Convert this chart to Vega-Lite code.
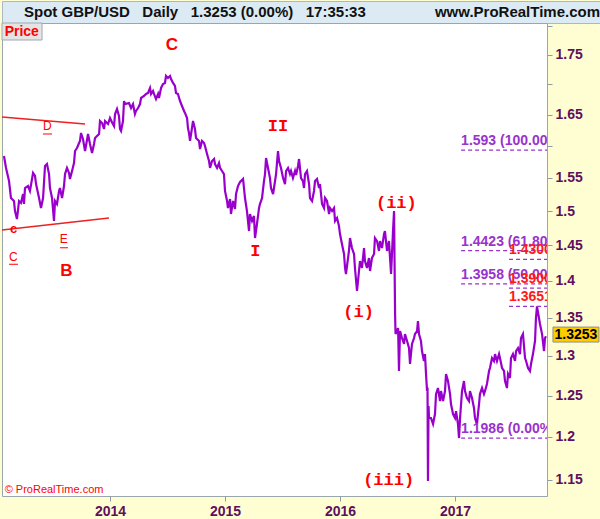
{
  "$schema": "https://vega.github.io/schema/vega-lite/v6.json",
  "padding": 0,
  "background": "#fffed2",
  "spacing": 0,
  "bounds": "flush",
  "config": {"concat": {"spacing": 0}, "view": {"stroke": null}},
  "vconcat": [
    {
      "width": 600,
      "height": 22,
      "view": {"fill": "#dbeaf3", "stroke": "#a9b8c2"},
      "data": {"values": [
        {"side": "left", "label": "Spot GBP/USD\u00a0\u00a0\u00a0Daily\u00a0\u00a0\u00a01.3253 (0.00%)\u00a0\u00a0\u00a017:35:33"},
        {"side": "right", "label": "www.ProRealTime.com"}
      ]},
      "encoding": {
        "x": {"field": "side", "type": "nominal", "scale": {"type": "point", "domain": ["left", "right"], "padding": 0}, "axis": null},
        "text": {"field": "label"}
      },
      "layer": [
        {"transform": [{"filter": "datum.side == 'left'"}],
         "mark": {"type": "text", "align": "left", "baseline": "middle", "dx": 22, "font": "Liberation Sans", "fontSize": 15, "fontWeight": "bold", "color": "#111111"}},
        {"transform": [{"filter": "datum.side == 'right'"}],
         "mark": {"type": "text", "align": "right", "baseline": "middle", "dx": -2, "font": "Liberation Sans", "fontSize": 15, "fontWeight": "bold", "color": "#111111"}}
      ]
    },
    {
      "width": 545,
      "height": 473,
      "view": {"fill": "#ffffff", "stroke": "#9aa6ae"},
      "encoding": {
        "x": {"field": "year", "type": "quantitative",
          "scale": {"domain": [2013.0609, 2017.8], "nice": false, "zero": false},
          "axis": {"values": [2014, 2015, 2016, 2017], "format": "d", "title": null, "grid": false, "domain": false,
            "tickColor": "#8d9ba5", "tickSize": 5, "labelFont": "Liberation Sans", "labelFontSize": 14, "labelFontWeight": "bold",
            "labelColor": "#5e0f5e", "labelPadding": 3, "labelFlush": false, "labelOverlap": false, "minExtent": 24, "maxExtent": 24}},
        "y": {"field": "price", "type": "quantitative",
          "scale": {"type": "log", "domain": [1.1319, 1.8062], "nice": false},
          "axis": {"orient": "right", "values": [1.15, 1.2, 1.25, 1.3, 1.35, 1.4, 1.45, 1.5, 1.55, 1.6, 1.65, 1.7, 1.75, 1.8],
            "labelExpr": "abs(datum.value-1.6)<0.001 || abs(datum.value-1.7)<0.001 || abs(datum.value-1.8)<0.001 ? '' : format(datum.value, '.2~f')",
            "title": null, "grid": false, "domain": false, "tickColor": "#8d9ba5", "tickSize": 5,
            "labelFont": "Liberation Sans", "labelFontSize": 14, "labelFontWeight": "bold", "labelColor": "#5e0f5e",
            "labelPadding": 3, "labelOverlap": false, "labelFlush": false, "minExtent": 55, "maxExtent": 55}}
      },
      "layer": [
        {
          "data": {"values": [{"year": 2013.0609, "year2": 2013.409, "price": 1.8062, "price2": 1.7761}]},
          "mark": {"type": "rect", "fill": "#e4e4e4", "stroke": "#a0a8b0", "strokeWidth": 1},
          "encoding": {"x2": {"field": "year2"}, "y2": {"field": "price2"}}
        },
        {
          "data": {"values": [
{"year":2013.078,"price":1.5837},{"year":2013.096,"price":1.5652},{"year":2013.122,"price":1.5451},{"year":2013.139,"price":1.5194},{"year":2013.165,"price":1.5149},{"year":2013.174,"price":1.5000},{"year":2013.191,"price":1.4882},{"year":2013.209,"price":1.5149},{"year":2013.226,"price":1.5120},{"year":2013.244,"price":1.5254},{"year":2013.252,"price":1.5104},{"year":2013.261,"price":1.5345},{"year":2013.287,"price":1.5375},{"year":2013.304,"price":1.5300},{"year":2013.331,"price":1.5574},{"year":2013.348,"price":1.5528},{"year":2013.357,"price":1.5405},{"year":2013.383,"price":1.5194},{"year":2013.400,"price":1.5045},{"year":2013.418,"price":1.5194},{"year":2013.435,"price":1.5682},{"year":2013.452,"price":1.5713},{"year":2013.470,"price":1.5558},{"year":2013.478,"price":1.5345},{"year":2013.496,"price":1.5194},{"year":2013.513,"price":1.4853},{"year":2013.522,"price":1.5149},{"year":2013.539,"price":1.5104},{"year":2013.557,"price":1.5300},{"year":2013.565,"price":1.5345},{"year":2013.583,"price":1.5194},{"year":2013.600,"price":1.5375},{"year":2013.609,"price":1.5558},{"year":2013.626,"price":1.5652},{"year":2013.644,"price":1.5574},{"year":2013.652,"price":1.5482},{"year":2013.670,"price":1.5605},{"year":2013.687,"price":1.5729},{"year":2013.696,"price":1.5916},{"year":2013.713,"price":1.5964},{"year":2013.731,"price":1.6043},{"year":2013.739,"price":1.6075},{"year":2013.748,"price":1.6202},{"year":2013.765,"price":1.6107},{"year":2013.783,"price":1.5916},{"year":2013.791,"price":1.5995},{"year":2013.809,"price":1.6186},{"year":2013.826,"price":1.6027},{"year":2013.844,"price":1.5885},{"year":2013.861,"price":1.6027},{"year":2013.870,"price":1.6123},{"year":2013.887,"price":1.6154},{"year":2013.905,"price":1.6186},{"year":2013.913,"price":1.6395},{"year":2013.931,"price":1.6363},{"year":2013.948,"price":1.6266},{"year":2013.957,"price":1.6395},{"year":2013.983,"price":1.6346},{"year":2014.000,"price":1.6444},{"year":2014.018,"price":1.6370},{"year":2014.035,"price":1.6314},{"year":2014.044,"price":1.6509},{"year":2014.061,"price":1.6591},{"year":2014.078,"price":1.6477},{"year":2014.087,"price":1.6266},{"year":2014.096,"price":1.6234},{"year":2014.113,"price":1.6395},{"year":2014.122,"price":1.6722},{"year":2014.130,"price":1.6672},{"year":2014.165,"price":1.6689},{"year":2014.183,"price":1.6607},{"year":2014.200,"price":1.6672},{"year":2014.217,"price":1.6509},{"year":2014.226,"price":1.6558},{"year":2014.244,"price":1.6607},{"year":2014.261,"price":1.6672},{"year":2014.270,"price":1.6772},{"year":2014.296,"price":1.6805},{"year":2014.313,"price":1.6839},{"year":2014.331,"price":1.6856},{"year":2014.348,"price":1.6939},{"year":2014.357,"price":1.6839},{"year":2014.374,"price":1.6889},{"year":2014.383,"price":1.6839},{"year":2014.400,"price":1.6755},{"year":2014.418,"price":1.6839},{"year":2014.426,"price":1.6772},{"year":2014.444,"price":1.6939},{"year":2014.461,"price":1.7006},{"year":2014.478,"price":1.7023},{"year":2014.487,"price":1.7141},{"year":2014.504,"price":1.7107},{"year":2014.522,"price":1.7141},{"year":2014.531,"price":1.7090},{"year":2014.548,"price":1.7023},{"year":2014.565,"price":1.6972},{"year":2014.574,"price":1.6856},{"year":2014.591,"price":1.6839},{"year":2014.609,"price":1.6722},{"year":2014.626,"price":1.6640},{"year":2014.644,"price":1.6558},{"year":2014.652,"price":1.6526},{"year":2014.670,"price":1.6444},{"year":2014.678,"price":1.6282},{"year":2014.687,"price":1.6202},{"year":2014.696,"price":1.6075},{"year":2014.713,"price":1.6282},{"year":2014.722,"price":1.6395},{"year":2014.739,"price":1.6266},{"year":2014.748,"price":1.6123},{"year":2014.774,"price":1.6075},{"year":2014.783,"price":1.5948},{"year":2014.800,"price":1.6075},{"year":2014.818,"price":1.6043},{"year":2014.826,"price":1.5995},{"year":2014.844,"price":1.5869},{"year":2014.861,"price":1.5760},{"year":2014.870,"price":1.5652},{"year":2014.887,"price":1.5760},{"year":2014.905,"price":1.5791},{"year":2014.913,"price":1.5713},{"year":2014.931,"price":1.5652},{"year":2014.948,"price":1.5729},{"year":2014.957,"price":1.5652},{"year":2014.974,"price":1.5605},{"year":2014.991,"price":1.5558},{"year":2015.000,"price":1.5300},{"year":2015.018,"price":1.5149},{"year":2015.026,"price":1.5045},{"year":2015.044,"price":1.5179},{"year":2015.052,"price":1.4956},{"year":2015.070,"price":1.5149},{"year":2015.087,"price":1.5030},{"year":2015.096,"price":1.5254},{"year":2015.113,"price":1.5375},{"year":2015.131,"price":1.5436},{"year":2015.157,"price":1.5482},{"year":2015.165,"price":1.5345},{"year":2015.174,"price":1.5194},{"year":2015.191,"price":1.5000},{"year":2015.209,"price":1.4706},{"year":2015.217,"price":1.4956},{"year":2015.235,"price":1.4853},{"year":2015.252,"price":1.4926},{"year":2015.261,"price":1.4605},{"year":2015.278,"price":1.4809},{"year":2015.296,"price":1.5045},{"year":2015.304,"price":1.5104},{"year":2015.322,"price":1.5194},{"year":2015.339,"price":1.5451},{"year":2015.348,"price":1.5558},{"year":2015.357,"price":1.5806},{"year":2015.374,"price":1.5652},{"year":2015.391,"price":1.5497},{"year":2015.400,"price":1.5345},{"year":2015.418,"price":1.5254},{"year":2015.426,"price":1.5345},{"year":2015.444,"price":1.5558},{"year":2015.461,"price":1.5916},{"year":2015.470,"price":1.5760},{"year":2015.487,"price":1.5652},{"year":2015.505,"price":1.5497},{"year":2015.522,"price":1.5405},{"year":2015.531,"price":1.5605},{"year":2015.548,"price":1.5652},{"year":2015.565,"price":1.5558},{"year":2015.574,"price":1.5605},{"year":2015.591,"price":1.5497},{"year":2015.609,"price":1.5605},{"year":2015.618,"price":1.5543},{"year":2015.635,"price":1.5682},{"year":2015.644,"price":1.5791},{"year":2015.661,"price":1.5497},{"year":2015.678,"price":1.5451},{"year":2015.687,"price":1.5345},{"year":2015.696,"price":1.5558},{"year":2015.713,"price":1.5605},{"year":2015.731,"price":1.5405},{"year":2015.739,"price":1.5194},{"year":2015.757,"price":1.5149},{"year":2015.774,"price":1.5300},{"year":2015.783,"price":1.5451},{"year":2015.800,"price":1.5482},{"year":2015.818,"price":1.5345},{"year":2015.826,"price":1.5405},{"year":2015.844,"price":1.5104},{"year":2015.861,"price":1.5045},{"year":2015.870,"price":1.5194},{"year":2015.887,"price":1.5149},{"year":2015.905,"price":1.4956},{"year":2015.913,"price":1.5045},{"year":2015.931,"price":1.5000},{"year":2015.948,"price":1.5045},{"year":2015.957,"price":1.4853},{"year":2015.974,"price":1.4897},{"year":2015.991,"price":1.4779},{"year":2016.000,"price":1.4662},{"year":2016.017,"price":1.4518},{"year":2016.035,"price":1.4376},{"year":2016.044,"price":1.4179},{"year":2016.052,"price":1.4095},{"year":2016.070,"price":1.4320},{"year":2016.078,"price":1.4419},{"year":2016.087,"price":1.4605},{"year":2016.104,"price":1.4461},{"year":2016.122,"price":1.4376},{"year":2016.130,"price":1.4179},{"year":2016.148,"price":1.3860},{"year":2016.165,"price":1.4137},{"year":2016.174,"price":1.4277},{"year":2016.191,"price":1.4179},{"year":2016.209,"price":1.4461},{"year":2016.217,"price":1.4277},{"year":2016.235,"price":1.4179},{"year":2016.252,"price":1.4320},{"year":2016.261,"price":1.4137},{"year":2016.278,"price":1.4320},{"year":2016.296,"price":1.4376},{"year":2016.304,"price":1.4605},{"year":2016.322,"price":1.4561},{"year":2016.339,"price":1.4419},{"year":2016.348,"price":1.4561},{"year":2016.365,"price":1.4461},{"year":2016.383,"price":1.4662},{"year":2016.391,"price":1.4706},{"year":2016.409,"price":1.4419},{"year":2016.426,"price":1.4561},{"year":2016.435,"price":1.4320},{"year":2016.444,"price":1.4095},{"year":2016.461,"price":1.4706},{"year":2016.470,"price":1.5000},{"year":2016.474,"price":1.4320},{"year":2016.479,"price":1.3548},{"year":2016.483,"price":1.3283},{"year":2016.505,"price":1.3362},{"year":2016.513,"price":1.2807},{"year":2016.522,"price":1.3322},{"year":2016.539,"price":1.3231},{"year":2016.557,"price":1.3153},{"year":2016.565,"price":1.3283},{"year":2016.583,"price":1.3192},{"year":2016.600,"price":1.3101},{"year":2016.609,"price":1.2896},{"year":2016.626,"price":1.3153},{"year":2016.644,"price":1.3231},{"year":2016.652,"price":1.3283},{"year":2016.670,"price":1.3322},{"year":2016.678,"price":1.3455},{"year":2016.687,"price":1.3283},{"year":2016.704,"price":1.3192},{"year":2016.713,"price":1.3062},{"year":2016.730,"price":1.2934},{"year":2016.739,"price":1.3023},{"year":2016.748,"price":1.2769},{"year":2016.757,"price":1.2556},{"year":2016.761,"price":1.2600},{"year":2016.765,"price":1.1488},{"year":2016.770,"price":1.2371},{"year":2016.774,"price":1.2226},{"year":2016.791,"price":1.2226},{"year":2016.809,"price":1.2153},{"year":2016.826,"price":1.2274},{"year":2016.835,"price":1.2518},{"year":2016.852,"price":1.2593},{"year":2016.870,"price":1.2432},{"year":2016.878,"price":1.2556},{"year":2016.896,"price":1.2432},{"year":2016.913,"price":1.2556},{"year":2016.922,"price":1.2769},{"year":2016.939,"price":1.2680},{"year":2016.957,"price":1.2518},{"year":2016.965,"price":1.2395},{"year":2016.983,"price":1.2274},{"year":2017.000,"price":1.2226},{"year":2017.009,"price":1.2310},{"year":2017.026,"price":1.2153},{"year":2017.035,"price":1.1986},{"year":2017.044,"price":1.2226},{"year":2017.061,"price":1.2556},{"year":2017.078,"price":1.2680},{"year":2017.087,"price":1.2556},{"year":2017.104,"price":1.2469},{"year":2017.122,"price":1.2432},{"year":2017.130,"price":1.2556},{"year":2017.148,"price":1.2469},{"year":2017.165,"price":1.2347},{"year":2017.174,"price":1.2226},{"year":2017.191,"price":1.2153},{"year":2017.209,"price":1.2395},{"year":2017.217,"price":1.2518},{"year":2017.235,"price":1.2593},{"year":2017.252,"price":1.2518},{"year":2017.261,"price":1.2556},{"year":2017.278,"price":1.2643},{"year":2017.296,"price":1.2807},{"year":2017.304,"price":1.2845},{"year":2017.322,"price":1.2972},{"year":2017.339,"price":1.2934},{"year":2017.348,"price":1.3023},{"year":2017.365,"price":1.2934},{"year":2017.383,"price":1.3023},{"year":2017.391,"price":1.2972},{"year":2017.409,"price":1.2845},{"year":2017.426,"price":1.2807},{"year":2017.435,"price":1.2680},{"year":2017.452,"price":1.2593},{"year":2017.461,"price":1.2769},{"year":2017.478,"price":1.2718},{"year":2017.487,"price":1.2972},{"year":2017.504,"price":1.3023},{"year":2017.522,"price":1.2934},{"year":2017.531,"price":1.3062},{"year":2017.548,"price":1.3101},{"year":2017.565,"price":1.3023},{"year":2017.574,"price":1.3231},{"year":2017.591,"price":1.3283},{"year":2017.609,"price":1.2972},{"year":2017.618,"price":1.2934},{"year":2017.635,"price":1.2845},{"year":2017.652,"price":1.2807},{"year":2017.661,"price":1.2896},{"year":2017.678,"price":1.3023},{"year":2017.696,"price":1.3192},{"year":2017.704,"price":1.3495},{"year":2017.713,"price":1.3651},{"year":2017.730,"price":1.3495},{"year":2017.739,"price":1.3415},{"year":2017.757,"price":1.3283},{"year":2017.774,"price":1.3062},{"year":2017.783,"price":1.3231},{"year":2017.791,"price":1.3253}
          ]},
          "mark": {"type": "line", "color": "#9900cc", "strokeWidth": 2.2, "strokeJoin": "miter", "clip": true}
        },
        {
          "data": {"values": [
            {"year": 2013.0609, "price": 1.6460, "year2": 2013.783, "price2": 1.6346},
            {"year": 2013.0609, "price": 1.4721, "year2": 2013.991, "price2": 1.4897}
          ]},
          "mark": {"type": "rule", "color": "#ee2020", "strokeWidth": 1.4},
          "encoding": {"x2": {"field": "year2"}, "y2": {"field": "price2"}}
        },
        {
          "data": {"values": [
            {"year": 2013.417, "year2": 2013.496, "price": 1.6186},
            {"year": 2013.565, "year2": 2013.635, "price": 1.4465},
            {"year": 2013.122, "year2": 2013.200, "price": 1.4231}
          ]},
          "mark": {"type": "rule", "color": "#ff0000", "strokeWidth": 1},
          "encoding": {"x2": {"field": "year2"}}
        },
        {
          "data": {"values": [
            {"year": 2017.053, "year2": 2017.8, "price": 1.593, "label": "1.593 (100.00%)"},
            {"year": 2017.053, "year2": 2017.8, "price": 1.4423, "label": "1.4423 (61.80%)"},
            {"year": 2017.053, "year2": 2017.8, "price": 1.3958, "label": "1.3958 (50.00%)"},
            {"year": 2017.053, "year2": 2017.8, "price": 1.1986, "label": "1.1986 (0.00%)"}
          ]},
          "layer": [
            {"mark": {"type": "rule", "color": "#9933cc", "strokeWidth": 1.2, "strokeDash": [4, 3]},
             "encoding": {"x2": {"field": "year2"}}},
            {"mark": {"type": "text", "align": "left", "baseline": "bottom", "dy": -2, "clip": true, "font": "Liberation Sans", "fontSize": 14, "fontWeight": "bold", "color": "#9933cc"},
             "encoding": {"text": {"field": "label"}}}
          ]
        },
        {
          "data": {"values": [
            {"year": 2017.470, "year2": 2017.8, "price": 1.43, "label": "1.4300"},
            {"year": 2017.470, "year2": 2017.8, "price": 1.39, "label": "1.3900"},
            {"year": 2017.470, "year2": 2017.8, "price": 1.3651, "label": "1.3651"}
          ]},
          "layer": [
            {"mark": {"type": "rule", "color": "#9933cc", "strokeWidth": 1.2, "strokeDash": [4, 3]},
             "encoding": {"x2": {"field": "year2"}}},
            {"mark": {"type": "text", "align": "left", "baseline": "bottom", "dy": -2, "clip": true, "font": "Liberation Sans", "fontSize": 14, "fontWeight": "bold", "color": "#ff1a1a"},
             "encoding": {"text": {"field": "label"}}}
          ]
        },
        {
          "data": {"values": [
            {"label": "C", "year": 2014.539, "price": 1.7674},
            {"label": "B", "year": 2013.620, "price": 1.4137}
          ]},
          "mark": {"type": "text", "align": "center", "baseline": "middle", "font": "Liberation Sans", "fontSize": 17, "fontWeight": "bold", "color": "#ff0000"},
          "encoding": {"text": {"field": "label"}}
        },
        {
          "data": {"values": [
            {"label": "II", "year": 2015.461, "price": 1.6314},
            {"label": "I", "year": 2015.264, "price": 1.4419},
            {"label": "(ii)", "year": 2016.490, "price": 1.5124},
            {"label": "(i)", "year": 2016.162, "price": 1.3580},
            {"label": "(iii)", "year": 2016.423, "price": 1.1496}
          ]},
          "mark": {"type": "text", "align": "center", "baseline": "middle", "font": "Liberation Mono", "fontSize": 17, "fontWeight": "bold", "color": "#ff0000"},
          "encoding": {"text": {"field": "label"}}
        },
        {
          "data": {"values": [
            {"label": "D", "year": 2013.455, "price": 1.6314},
            {"label": "E", "year": 2013.597, "price": 1.4586},
            {"label": "C", "year": 2013.159, "price": 1.4334}
          ]},
          "mark": {"type": "text", "align": "center", "baseline": "middle", "font": "Liberation Sans", "fontSize": 12, "color": "#ff0000"},
          "encoding": {"text": {"field": "label"}}
        },
        {
          "data": {"values": [{"label": "c", "year": 2013.162, "price": 1.4741}]},
          "mark": {"type": "text", "align": "center", "baseline": "middle", "font": "Liberation Sans", "fontSize": 13, "fontWeight": "bold", "color": "#ff0000"},
          "encoding": {"text": {"field": "label"}}
        },
        {
          "data": {"values": [{"label": "Price", "year": 2013.084, "price": 1.7902}]},
          "mark": {"type": "text", "align": "left", "baseline": "middle", "font": "Liberation Sans", "fontSize": 14, "fontWeight": "bold", "color": "#ff0000"},
          "encoding": {"text": {"field": "label"}}
        },
        {
          "data": {"values": [{"label": "\u00a9 ProRealTime.com", "year": 2013.084, "price": 1.1387}]},
          "mark": {"type": "text", "align": "left", "baseline": "middle", "font": "Liberation Sans", "fontSize": 11, "color": "#ff0000"},
          "encoding": {"text": {"field": "label"}}
        },
        {
          "data": {"values": [{"year": 2017.852, "year2": 2018.252, "price": 1.3375, "price2": 1.3178}]},
          "mark": {"type": "rect", "fill": "#ffcc00", "stroke": "#8f8f8f", "strokeWidth": 1, "clip": false},
          "encoding": {"x2": {"field": "year2"}, "y2": {"field": "price2"}}
        },
        {
          "data": {"values": [{"label": "1.3253", "year": 2018.052, "price": 1.3275}]},
          "mark": {"type": "text", "align": "center", "baseline": "middle", "clip": false, "font": "Liberation Sans", "fontSize": 14, "fontWeight": "bold", "color": "#000000"},
          "encoding": {"text": {"field": "label"}}
        }
      ]
    }
  ]
}
